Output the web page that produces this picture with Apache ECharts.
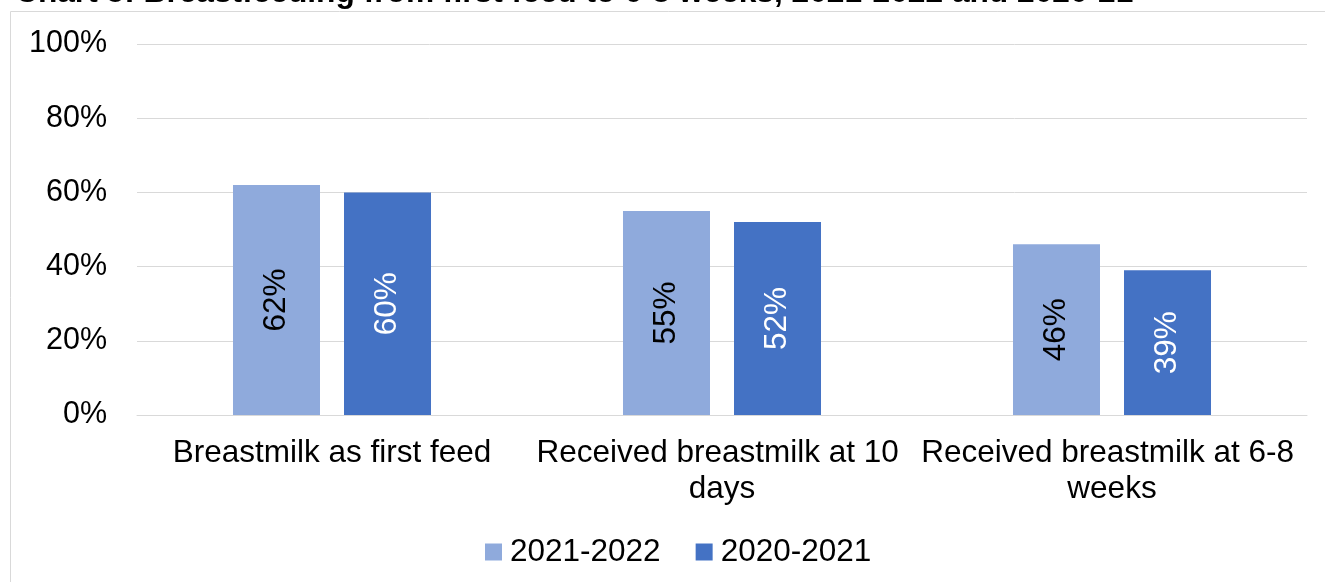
<!DOCTYPE html>
<html>
<head>
<meta charset="utf-8">
<script src="https://cdn.jsdelivr.net/npm/echarts@6/dist/echarts.min.js"></script>
<style>
  html, body { margin: 0; padding: 0; background: #fff; }
  #chart { width: 1325px; height: 582px; }
</style>
</head>
<body>
<div id="chart"></div>
<script>
// Breastfeeding measures by year
const categories = ['Breastmilk as first feed', 'Received breastmilk at 10 days', 'Received breastmilk at 6-8 weeks'];
const seriesNames = ['2021-2022', '2020-2021'];
const values2021_22 = [62, 55, 46];
const values2020_21 = [60, 52, 39];
const yTicks = [0, 20, 40, 60, 80, 100];

const font = '"Liberation Sans", Arial, sans-serif';
const chart = echarts.init(document.getElementById('chart'));

const barLabel = (color) => ({
  show: true,
  position: 'inside',
  rotate: 90,
  formatter: (p) => p.value + '%',
  color: color,
  fontSize: 31.5,
  fontFamily: font
});

chart.setOption({
  animation: false,
  title: {
    text: 'Chart 5: Breastfeeding from first feed to 6-8 weeks, 2021-2022 and 2020-21',
    left: 10,
    top: -28,
    textStyle: { fontFamily: font, fontWeight: 'bold', fontSize: 31.7, color: '#000' }
  },
  graphic: [{
    type: 'rect',
    shape: { x: 10.5, y: 11.5, width: 1330, height: 600 },
    style: { fill: 'none', stroke: '#D9D9D9', lineWidth: 1 },
    z: -1
  }],
  grid: { left: 137, right: 18, top: 44, bottom: 167, containLabel: false },
  legend: {
    data: seriesNames,
    top: 531,
    left: 480,
    icon: 'rect',
    itemWidth: 17,
    itemHeight: 17,
    itemGap: 35,
    textStyle: { fontFamily: font, fontSize: 31.5, color: '#000', padding: [0, 0, 0, 3] }
  },
  xAxis: {
    type: 'category',
    data: categories,
    axisLine: { show: true, lineStyle: { color: '#D9D9D9', width: 1 } },
    axisTick: { show: false },
    axisLabel: {
      color: '#000',
      fontFamily: font,
      fontSize: 31.5,
      lineHeight: 36,
      margin: 20,
      width: 390,
      overflow: 'break',
      interval: 0
    }
  },
  yAxis: {
    type: 'value',
    min: yTicks[0],
    max: yTicks[yTicks.length - 1],
    interval: 20,
    axisLine: { show: false },
    axisTick: { show: false },
    splitLine: { lineStyle: { color: '#D9D9D9', width: 1 } },
    axisLabel: {
      color: '#000',
      fontFamily: font,
      fontSize: 30.5,
      margin: 30,
      formatter: (v) => v + '%'
    }
  },
  series: [
    {
      name: seriesNames[0],
      type: 'bar',
      data: values2021_22,
      barWidth: 87,
      barGap: '27.6%',
      itemStyle: { color: '#8FAADC' },
      label: barLabel('#000')
    },
    {
      name: seriesNames[1],
      type: 'bar',
      data: values2020_21,
      barWidth: 87,
      itemStyle: { color: '#4472C4' },
      label: barLabel('#fff')
    }
  ]
});
</script>
</body>
</html>
